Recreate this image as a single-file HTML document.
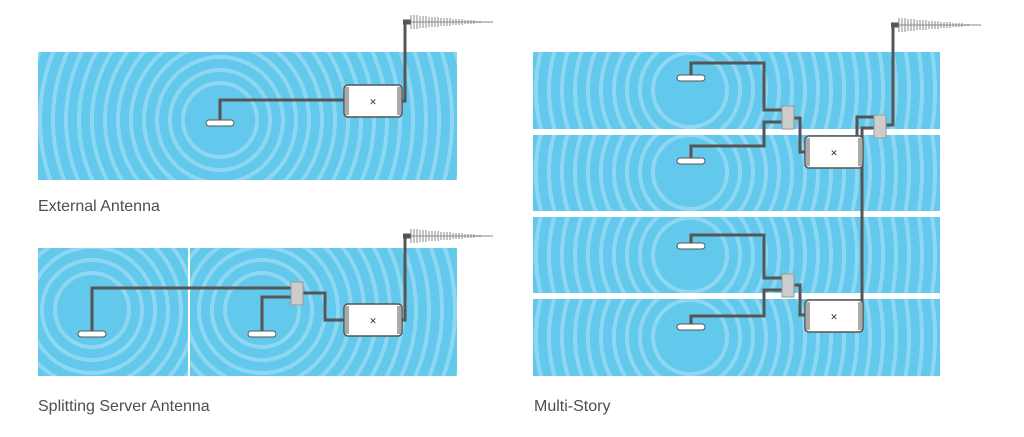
<!DOCTYPE html>
<html><head><meta charset="utf-8"><style>
html,body{margin:0;padding:0;background:#fff;width:1024px;height:437px;overflow:hidden;position:relative;font-family:"Liberation Sans",sans-serif}
.p{position:absolute;}
.t{position:absolute;font-size:16px;color:#4a4f55;}
</style></head><body>
<div class="p" style="left:38px;top:52px;width:419px;height:128px;background:repeating-radial-gradient(circle at 182px 68px,#62c8ec 0 9px,#8dd7f2 9px 13px)"></div>
<div class="p" style="left:38px;top:248px;width:150px;height:128px;background:repeating-radial-gradient(circle at 54px 62px,#62c8ec 0 9px,#8dd7f2 9px 13px)"></div>
<div class="p" style="left:190px;top:248px;width:267px;height:128px;background:repeating-radial-gradient(circle at 72px 62px,#62c8ec 0 9px,#8dd7f2 9px 13px)"></div>
<div class="p" style="left:533px;top:52px;width:407px;height:77px;background:repeating-radial-gradient(circle at 157px 38px,#62c8ec 0 9px,#8dd7f2 9px 13px)"></div>
<div class="p" style="left:533px;top:135px;width:407px;height:76px;background:repeating-radial-gradient(circle at 157px 37px,#62c8ec 0 9px,#8dd7f2 9px 13px)"></div>
<div class="p" style="left:533px;top:217px;width:407px;height:76px;background:repeating-radial-gradient(circle at 157px 38px,#62c8ec 0 9px,#8dd7f2 9px 13px)"></div>
<div class="p" style="left:533px;top:299px;width:407px;height:77px;background:repeating-radial-gradient(circle at 157px 38px,#62c8ec 0 9px,#8dd7f2 9px 13px)"></div>
<svg width="1024" height="437" style="position:absolute;left:0;top:0">
<g fill="#62c8ec">
<circle cx="220" cy="120" r="30"/><circle cx="92" cy="310" r="30"/><circle cx="262" cy="310" r="30"/>
<circle cx="690" cy="90" r="30"/><circle cx="690" cy="172" r="30"/><circle cx="690" cy="255" r="30"/><circle cx="690" cy="337" r="30"/>
</g>
</svg>
<div class="t" style="left:38px;top:198px">External Antenna</div>
<div class="t" style="left:38px;top:398px">Splitting Server Antenna</div>
<div class="t" style="left:534px;top:398px">Multi-Story</div>
<svg width="1024" height="437" style="position:absolute;left:0;top:0">
<defs>
<g id="amp"><rect x="0" y="0" width="58" height="32" rx="4" fill="#fff" stroke="#555" stroke-width="1.5"/><rect x="1" y="2" width="4" height="28" fill="#aaa"/><rect x="53" y="2" width="4" height="28" fill="#aaa"/><text x="29" y="20" font-size="9" text-anchor="middle" fill="#333" font-family="Liberation Sans,sans-serif">✕</text></g>
<g id="ant"><path d="M0 0 h8" stroke="#555" stroke-width="5"/><g stroke="#888" stroke-width="1"><path d="M8 -7 V7 M11 -7 V7 M14 -7 V7 M17 -6 V6 M20 -6 V6 M23 -6 V6 M26 -5 V5 M29 -5 V5 M32 -5 V5 M35 -5 V5 M38 -4 V4 M41 -4 V4 M44 -4 V4 M47 -4 V4 M50 -3 V3 M53 -3 V3 M56 -3 V3 M59 -3 V3 M62 -2 V2 M65 -2 V2 M68 -2 V2 M71 -2 V2 M74 -1 V1 M77 -1 V1"/><path d="M8 0 H90"/></g></g>
<g id="in"><rect x="-14" y="-3" width="28" height="6" rx="3" fill="#fff" stroke="#555" stroke-width="1"/></g>
<g id="spl"><rect x="0" y="0" width="12" height="23" fill="#ccc" stroke="#999"/></g>
</defs>
<g fill="none" stroke="#555" stroke-width="3">
<path d="M220 122 V100 H345"/><path d="M402 101 H405 V22"/>
<path d="M92 333 V288 H291"/><path d="M262 333 V297 H291"/><path d="M302 293 H325 V320 H345"/><path d="M389 320 H405 V236"/>
<path d="M691 77 V63 H764 V110 H782"/><path d="M691 160 V146 H764 V122 H782"/><path d="M794 118 H800 V152 H806"/>
<path d="M852 152 H857 V117 H874"/><path d="M886 125 H893 V25"/><path d="M874 128 H862 V315 H852"/>
<path d="M691 245 V235 H764 V278 H782"/><path d="M691 326 V316 H764 V290 H782"/><path d="M794 285 H800 V315 H806"/>
</g>
<use href="#amp" x="344" y="85"/><use href="#ant" x="403" y="22"/><use href="#in" x="220" y="123"/>
<use href="#amp" x="344" y="304"/><use href="#ant" x="403" y="236"/><use href="#in" x="92" y="334"/><use href="#in" x="262" y="334"/><use href="#spl" x="291" y="282"/>
<use href="#amp" x="805" y="136"/><use href="#amp" x="805" y="300"/><use href="#ant" x="891" y="25"/>
<use href="#in" x="691" y="78"/><use href="#in" x="691" y="161"/><use href="#in" x="691" y="246"/><use href="#in" x="691" y="327"/>
<use href="#spl" x="782" y="106"/><use href="#spl" x="874" y="115"/><use href="#spl" x="782" y="274"/>
</svg>
</body></html>
